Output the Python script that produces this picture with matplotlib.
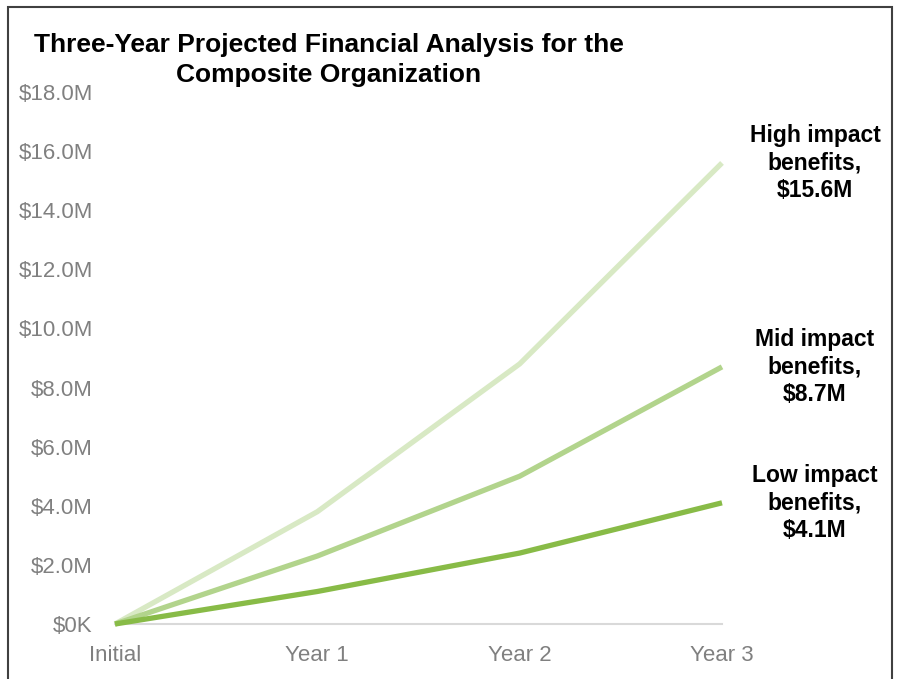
import matplotlib
matplotlib.use("Agg")
import matplotlib.pyplot as plt
from matplotlib.patches import Rectangle
from matplotlib.ticker import FuncFormatter

categories = ["Initial", "Year 1", "Year 2", "Year 3"]
high = [0.0, 3.8, 8.8, 15.6]
mid = [0.0, 2.3, 5.0, 8.7]
low = [0.0, 1.1, 2.4, 4.1]
series_names = ["High impact\nbenefits,\n$15.6M", "Mid impact\nbenefits,\n$8.7M", "Low impact\nbenefits,\n$4.1M"]
yticks = [0, 2, 4, 6, 8, 10, 12, 14, 16, 18]
title_lines = ["Three-Year Projected Financial Analysis for the", "Composite Organization"]

colors = ["#d8e9c4", "#b2d48c", "#88bb47"]

W, H = 897, 679
fig = plt.figure(figsize=(W / 100, H / 100), dpi=100)
ax = fig.add_axes([115 / W, 1 - 624 / H, (722 - 115) / W, (624 - 92) / H])

x = list(range(len(categories)))
for vals, c, name in zip([high, mid, low], colors, series_names):
    ax.plot(x, vals, color=c, lw=3.8, solid_capstyle="butt", clip_on=False, zorder=3)
    ax.annotate(name, xy=(x[-1], vals[-1]), xytext=(67, 0), textcoords="offset points",
                ha="center", va="center", fontsize=16.5, fontweight="bold",
                family=["Liberation Sans", "DejaVu Sans"], color="black", linespacing=1.24)

ax.set_xlim(0, 3)
ax.set_ylim(0, 18)
ax.set_xticks(x)
ax.set_xticklabels(categories)
ax.set_yticks(yticks)
ax.yaxis.set_major_formatter(FuncFormatter(lambda v, p: "$0K" if v == 0 else f"${v:.1f}M"))
for s in ["top", "right", "left"]:
    ax.spines[s].set_visible(False)
ax.spines["bottom"].set_color("#d9d9d9")
ax.spines["bottom"].set_linewidth(1.5)
ax.tick_params(axis="both", length=0, colors="#808080", labelsize=16)
ax.tick_params(axis="y", pad=16)
ax.tick_params(axis="x", pad=15)
for lab in ax.get_xticklabels() + ax.get_yticklabels():
    lab.set_family(["Liberation Sans Narrow", "Liberation Sans", "DejaVu Sans"])

for line, yc in zip(title_lines, [45, 75]):
    fig.text(329 / W, 1 - yc / H, line, ha="center", va="center", fontsize=19, fontweight="bold",
             family=["Liberation Sans", "DejaVu Sans"])

fig.patches.append(Rectangle((8 / W, -0.05), (892 - 8) / W, 1 - 7 / H + 0.05,
                             transform=fig.transFigure, fill=False, edgecolor="#404040", lw=1.5))

fig.savefig("out.png", dpi=100)
